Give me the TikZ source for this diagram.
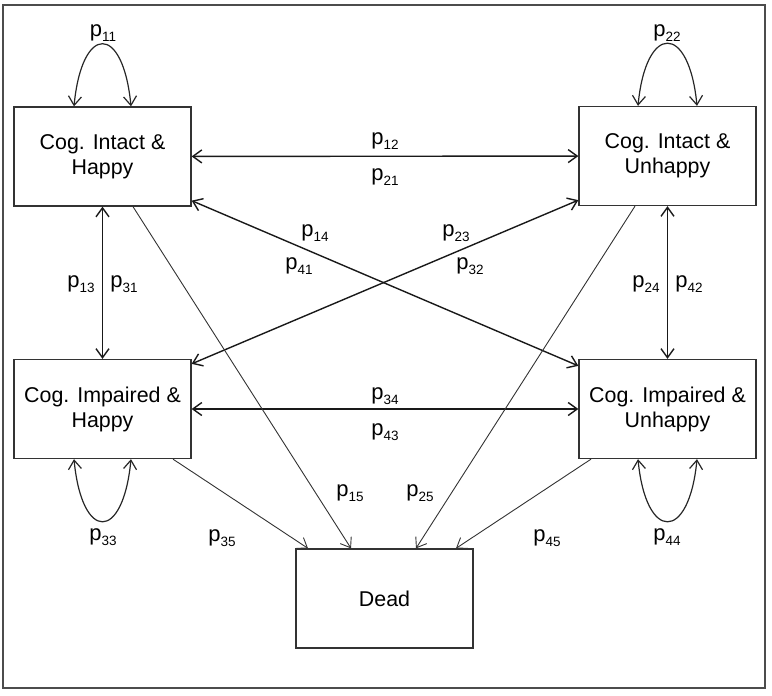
\documentclass[tikz,border=0pt]{standalone}
\usepackage{fontspec}
\setmainfont{Liberation Sans}
\usetikzlibrary{arrows.meta,calc}
\newcommand{\pp}[1]{p\raisebox{-4.5pt}{\fontsize{13.5}{13.5}\selectfont #1}}
\begin{document}
\begin{tikzpicture}[x=1pt,y=-1pt,
  state/.style={draw=black!80,line width=1.3pt,minimum width=177pt,minimum height=99pt,
    align=center,inner sep=0pt,font=\fontsize{21.4}{25}\selectfont},
  lab/.style={inner sep=0pt,font=\fontsize{22}{24}\selectfont},
  dbl/.style={line width=1.4pt,draw=black!90,{Straight Barb[length=9pt,width=13pt]}-{Straight Barb[length=9pt,width=13pt]}},
  todead/.style={line width=0.9pt,draw=black!80,-{Straight Barb[length=9pt,width=13pt]}},
  loopa/.style={line width=1.2pt,draw=black!85,{Straight Barb[length=9pt,width=13pt]}-{Straight Barb[length=9pt,width=13pt]}}]
\useasboundingbox (0,0) rectangle (772,696);
\draw[line width=1.8pt,draw=black!70] (3,5) rectangle (765,688);
% states
\node[state] (b1) at (102.5,156.5) {Cog. Intact \&\\Happy};
\node[state] (b2) at (667.5,156) {Cog. Intact \&\\Unhappy};
\node[state] (b3) at (102.5,409) {Cog. Impaired \&\\Happy};
\node[state] (b4) at (667.5,409) {Cog. Impaired \&\\Unhappy};
\node[state] (dead) at (384.5,598.5) {Dead};
% self loops
\draw[loopa] ([xshift=-28.5pt]b1.north) .. controls +(8,-83) and +(-8,-83) .. ([xshift=28.5pt]b1.north);
\draw[loopa] ([xshift=-29.5pt]b2.north) .. controls +(8,-83) and +(-8,-83) .. ([xshift=29.5pt]b2.north);
\draw[loopa] ([xshift=-28.5pt]b3.south) .. controls +(8,83) and +(-8,83) .. ([xshift=28.5pt]b3.south);
\draw[loopa] ([xshift=-29.5pt]b4.south) .. controls +(8,83) and +(-8,83) .. ([xshift=29.5pt]b4.south);
% two-way transitions
\draw[dbl] (b1) -- (b2);
\draw[dbl] (b3) -- (b4);
\draw[dbl] (b1) -- (b3);
\draw[dbl] (b2) -- (b4);
\draw[dbl] ([yshift=6pt]b1.south east) -- ([yshift=-7pt]b4.north west);
\draw[dbl] ([yshift=-5pt]b3.north east) -- ([yshift=6pt]b2.south west);
% to dead
\draw[todead] ([xshift=30.5pt]b1.south) -- ([xshift=-33.5pt]dead.north);
\draw[todead] ([xshift=-32.5pt]b2.south) -- ([xshift=31.5pt]dead.north);
\draw[todead] ([xshift=70.5pt]b3.south) -- ([xshift=-76.5pt]dead.north);
\draw[todead] ([xshift=-76.5pt]b4.south) -- ([xshift=71.5pt]dead.north);
% labels
\node[lab] (l11) at (103,33) {\pp{11}};
\node[lab] (l22) at (667,33) {\pp{22}};
\node[lab] (l33) at (103,537) {\pp{33}};
\node[lab] (l44) at (667,537) {\pp{44}};
\node[lab] (l12) at (385,141) {\pp{12}};
\node[lab] (l21) at (385,177) {\pp{21}};
\node[lab] (l34) at (385,396) {\pp{34}};
\node[lab] (l43) at (385,432) {\pp{43}};
\node[lab] (l13) at (81,284) {\pp{13}};
\node[lab] (l31) at (124,284) {\pp{31}};
\node[lab] (l24) at (646,284) {\pp{24}};
\node[lab] (l42) at (689,284) {\pp{42}};
\node[lab] (l14) at (315,233) {\pp{14}};
\node[lab] (l41) at (299,266) {\pp{41}};
\node[lab] (l23) at (456,233) {\pp{23}};
\node[lab] (l32) at (470,266) {\pp{32}};
\node[lab] (l15) at (350,493) {\pp{15}};
\node[lab] (l25) at (420,493) {\pp{25}};
\node[lab] (l35) at (222,538) {\pp{35}};
\node[lab] (l45) at (547,538) {\pp{45}};
\end{tikzpicture}
\end{document}
